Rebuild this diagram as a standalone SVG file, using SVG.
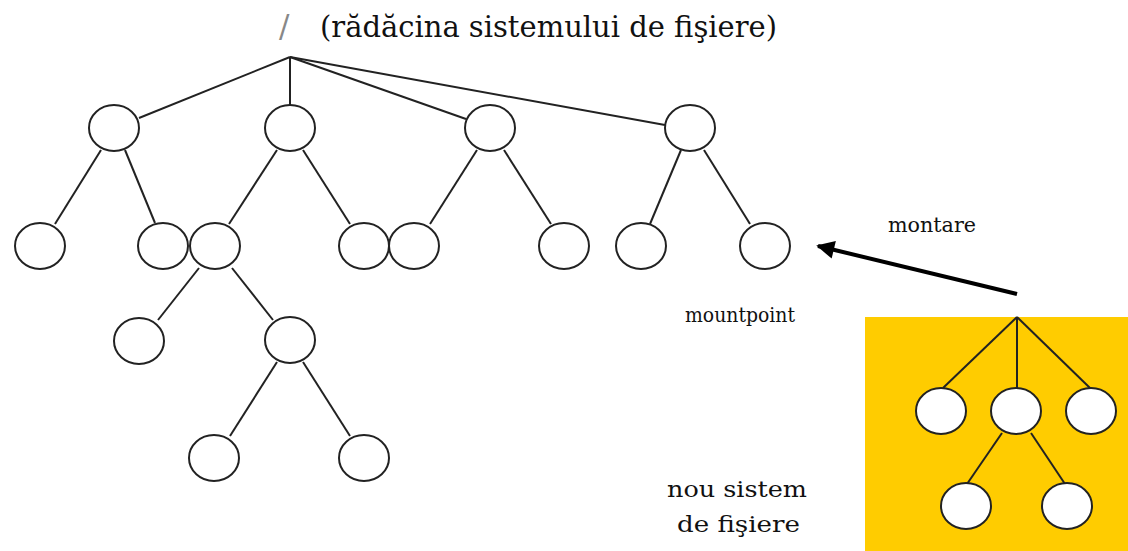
<svg xmlns="http://www.w3.org/2000/svg" width="1128" height="551" viewBox="0 0 1128 551">
<style>
.n{fill:#fff;stroke:#222;stroke-width:2}
.e{stroke:#222;stroke-width:2;fill:none}
.t{font-family:"DejaVu Serif","Liberation Serif",serif;fill:#111}
</style>
<defs>
<marker id="ah" viewBox="0 0 10 10" refX="9" refY="5" markerWidth="5.5" markerHeight="4.5" orient="auto" markerUnits="strokeWidth">
<path d="M0,0 L10,5 L0,10 z" fill="#000"/>
</marker>
</defs>
<rect id="newfs-bg" x="865" y="317" width="263" height="234" fill="#FFCC00"/>
<g id="title">
<text class="t" x="279" y="37" font-size="31" style="fill:#888">/</text>
<text class="t" x="320" y="37" font-size="29" textLength="457" lengthAdjust="spacingAndGlyphs">(rădăcina sistemului de fişiere)</text>
</g>
<g id="connectors">
<line class="e" x1="290" y1="57" x2="139" y2="118"/>
<line class="e" x1="290" y1="57" x2="290" y2="105"/>
<line class="e" x1="290" y1="57" x2="466" y2="119"/>
<line class="e" x1="290" y1="57" x2="665" y2="125"/>
<line class="e" x1="101" y1="150" x2="55" y2="224"/>
<line class="e" x1="125" y1="150" x2="155" y2="223"/>
<line class="e" x1="277" y1="150" x2="229" y2="224"/>
<line class="e" x1="303" y1="150" x2="350" y2="224"/>
<line class="e" x1="477" y1="150" x2="430" y2="224"/>
<line class="e" x1="504" y1="150" x2="551" y2="224"/>
<line class="e" x1="681" y1="150" x2="650" y2="224"/>
<line class="e" x1="704" y1="150" x2="750" y2="224"/>
<line class="e" x1="199" y1="268" x2="158" y2="320"/>
<line class="e" x1="232" y1="268" x2="273" y2="320"/>
<line class="e" x1="277" y1="362" x2="230" y2="436"/>
<line class="e" x1="303" y1="362" x2="350" y2="436"/>
<line class="e" x1="1017" y1="317" x2="943" y2="388"/>
<line class="e" x1="1017" y1="317" x2="1017" y2="388"/>
<line class="e" x1="1017" y1="317" x2="1090" y2="388"/>
<line class="e" x1="1002" y1="433" x2="967" y2="484"/>
<line class="e" x1="1031" y1="433" x2="1065" y2="484"/>
<line id="mount-arrow" x1="1017" y1="294" x2="818" y2="246" stroke="#000" stroke-width="4" marker-end="url(#ah)"/>
</g>
<g id="n-a"><ellipse class="n" cx="114" cy="128" rx="25" ry="23"/></g>
<g id="n-b"><ellipse class="n" cx="290" cy="128" rx="25" ry="23"/></g>
<g id="n-c"><ellipse class="n" cx="490" cy="128" rx="25" ry="23"/></g>
<g id="n-d"><ellipse class="n" cx="690" cy="128" rx="25" ry="23"/></g>
<g id="n-a1"><ellipse class="n" cx="40" cy="246" rx="25" ry="23"/></g>
<g id="n-a2"><ellipse class="n" cx="163" cy="246" rx="25" ry="23"/></g>
<g id="n-b1"><ellipse class="n" cx="215" cy="246" rx="25" ry="23"/></g>
<g id="n-b2"><ellipse class="n" cx="364" cy="246" rx="25" ry="23"/></g>
<g id="n-c1"><ellipse class="n" cx="414" cy="246" rx="25" ry="23"/></g>
<g id="n-c2"><ellipse class="n" cx="564" cy="246" rx="25" ry="23"/></g>
<g id="n-d1"><ellipse class="n" cx="641" cy="246" rx="25" ry="23"/></g>
<g id="n-d2"><ellipse class="n" cx="765" cy="246" rx="25" ry="23"/></g>
<g id="n-b1a"><ellipse class="n" cx="139" cy="341" rx="25" ry="23"/></g>
<g id="n-b1b"><ellipse class="n" cx="290" cy="340" rx="25" ry="23"/></g>
<g id="n-b1b1"><ellipse class="n" cx="214" cy="458" rx="25" ry="23"/></g>
<g id="n-b1b2"><ellipse class="n" cx="364" cy="458" rx="25" ry="23"/></g>
<g id="f-1"><ellipse class="n" cx="941" cy="411" rx="25" ry="23"/></g>
<g id="f-2"><ellipse class="n" cx="1016" cy="411" rx="25" ry="23"/></g>
<g id="f-3"><ellipse class="n" cx="1091" cy="411" rx="25" ry="23"/></g>
<g id="f-2a"><ellipse class="n" cx="966" cy="506" rx="25" ry="23"/></g>
<g id="f-2b"><ellipse class="n" cx="1067" cy="506" rx="25" ry="23"/></g>
<g id="labels">
<text class="t" x="888" y="232" font-size="21" textLength="88" lengthAdjust="spacingAndGlyphs">montare</text>
<text class="t" x="685" y="322" font-size="20" textLength="110" lengthAdjust="spacingAndGlyphs">mountpoint</text>
<text class="t" x="667" y="497" font-size="23" textLength="140" lengthAdjust="spacingAndGlyphs">nou sistem</text>
<text class="t" x="677" y="532" font-size="23" textLength="123" lengthAdjust="spacingAndGlyphs">de fişiere</text>
</g>
</svg>
